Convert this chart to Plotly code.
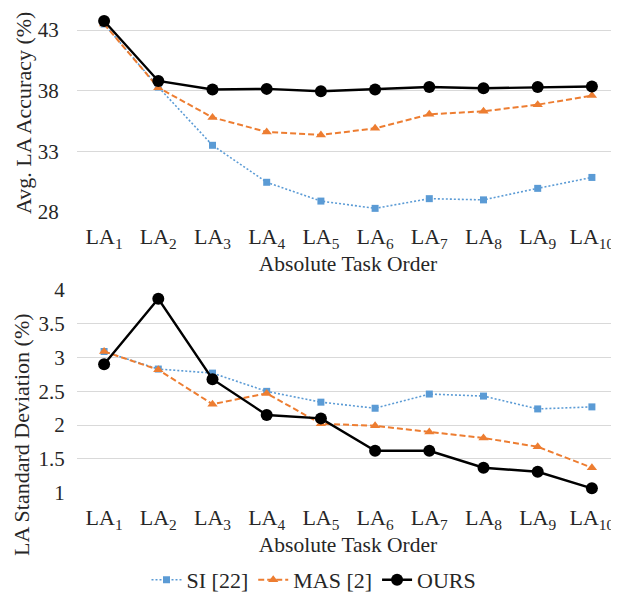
import plotly.graph_objects as go
from plotly.subplots import make_subplots

categories = ["LA1", "LA2", "LA3", "LA4", "LA5", "LA6", "LA7", "LA8", "LA9", "LA10"]
tick_labels = ["LA<sub>%d</sub>" % i for i in range(1, 11)]

si_acc = [43.5, 38.3, 33.5, 30.45, 28.9, 28.3, 29.1, 29.0, 29.95, 30.85]
mas_acc = [43.5, 38.25, 35.8, 34.6, 34.35, 34.9, 36.05, 36.3, 36.85, 37.6]
ours_acc = [43.75, 38.8, 38.1, 38.15, 37.95, 38.1, 38.3, 38.2, 38.3, 38.35]

si_std = [3.09, 2.83, 2.77, 2.50, 2.34, 2.25, 2.46, 2.43, 2.24, 2.27]
mas_std = [3.09, 2.82, 2.31, 2.47, 2.02, 1.99, 1.90, 1.81, 1.68, 1.37]
ours_std = [2.90, 3.87, 2.68, 2.15, 2.10, 1.62, 1.62, 1.37, 1.31, 1.065]

acc_ticks = [28, 33, 38, 43]
std_ticks = [1, 1.5, 2, 2.5, 3, 3.5, 4]
std_tick_labels = ["1", "1.5", "2", "2.5", "3", "3.5", "4"]

series_names = ["SI [22]", "MAS [2]", "OURS"]
colors = ["#5B9BD5", "#ED7D31", "#000000"]

FONT = "Liberation Serif"
TXT = "#262626"
OFF = 8                      # browser body margin
W, H = 619 - OFF, 592 - OFF
L = 77 - OFF

def px_x(x):
    return (x - OFF - L) / (W - L)

def px_y(y):
    return (H - (y - OFF)) / H

def ydom(top_px, bot_px):
    return [max(0.0, px_y(bot_px)), min(1.0, px_y(top_px))]

fig = make_subplots(rows=2, cols=1)

styles = [
    dict(line=dict(color=colors[0], width=1.6, dash="2px,2px"), marker=dict(symbol="square", size=7, color=colors[0])),
    dict(line=dict(color=colors[1], width=2, dash="6px,3px"), marker=dict(symbol="triangle-up", size=9, color=colors[1])),
    dict(line=dict(color=colors[2], width=2.4), marker=dict(symbol="circle", size=12, color=colors[2])),
]

for row, data in [(1, [si_acc, mas_acc, ours_acc]), (2, [si_std, mas_std, ours_std])]:
    for i, ys in enumerate(data):
        fig.add_trace(go.Scatter(x=categories, y=ys, mode="lines+markers", name=series_names[i],
                                 showlegend=(row == 1), cliponaxis=False, **styles[i]), row=row, col=1)

fig.update_layout(
    width=W, height=H,
    margin=dict(l=L, r=0, t=0, b=0, autoexpand=False),
    paper_bgcolor="white", plot_bgcolor="white",
    font=dict(family=FONT, size=18, color=TXT),
    legend=dict(orientation="h", x=px_x(314), xanchor="center", y=px_y(580), yanchor="middle",
                font=dict(size=22, family=FONT, color=TXT), itemwidth=30, tracegroupgap=0,
                bgcolor="rgba(0,0,0,0)"),
)

xcommon = dict(tickmode="array", tickvals=categories, ticktext=tick_labels, showgrid=False,
               showline=False, zeroline=False, ticks="outside", ticklen=5, tickcolor="rgba(0,0,0,0)",
               tickfont=dict(size=22, family=FONT, color=TXT), automargin=False,
               title=dict(text="Absolute Task Order", font=dict(size=21.5, family=FONT, color=TXT), standoff=0),
               range=[-0.5, 9.5])
fig.update_xaxes(**xcommon, row=1, col=1)
fig.update_xaxes(**xcommon, row=2, col=1)

ycommon = dict(showgrid=True, gridcolor="#D9D9D9", gridwidth=1, zeroline=False, showline=False,
               ticks="outside", tickcolor="rgba(0,0,0,0)", automargin=False,
               tickfont=dict(size=21, family=FONT, color=TXT))
# top plot: 28 at y=212, 12.13 px per unit, top edge at y=8
fig.update_yaxes(**ycommon, ticklen=13, range=[28, 28 + (212 - 8) / 12.13], tickvals=acc_ticks,
                 domain=ydom(8, 212), row=1, col=1)
fig.update_yaxes(**ycommon, ticklen=7, range=[1, 4], tickvals=std_ticks, ticktext=std_tick_labels,
                 domain=ydom(290, 492.7), row=2, col=1)

fig.add_annotation(text="Avg. LA Accuracy (%)", textangle=-90, xref="paper", yref="paper",
                   x=px_x(23), y=px_y(113), xanchor="center", yanchor="middle",
                   showarrow=False, font=dict(size=22, family=FONT, color=TXT))
fig.add_annotation(text="LA Standard Deviation (%)", textangle=-90, xref="paper", yref="paper",
                   x=px_x(21), y=px_y(435), xanchor="center", yanchor="middle",
                   showarrow=False, font=dict(size=22, family=FONT, color=TXT))

fig.write_html("out.html")
